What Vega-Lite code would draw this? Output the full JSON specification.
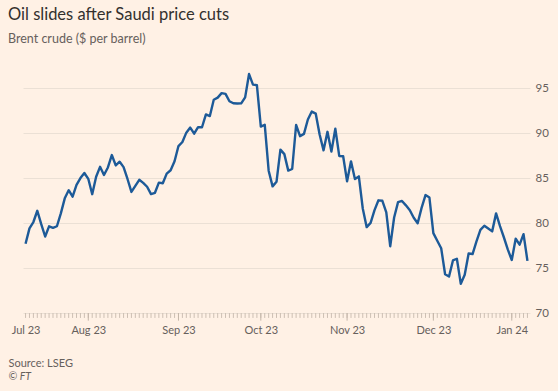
{
  "$schema": "https://vega.github.io/schema/vega-lite/v6.json",
  "autosize": "none",
  "width": 507,
  "height": 243,
  "padding": {"left": 23, "top": 70, "right": 28, "bottom": 78},
  "background": "#fff1e5",
  "title": {
    "text": "Oil slides after Saudi price cuts",
    "subtitle": "Brent crude ($ per barrel)",
    "anchor": "start",
    "frame": "group",
    "dx": -15,
    "offset": 25,
    "font": "Lato",
    "fontSize": 16.5,
    "fontWeight": "normal",
    "color": "#33302e",
    "subtitleFont": "Lato",
    "subtitleFontSize": 12.5,
    "subtitleColor": "#66605c",
    "subtitlePadding": 9
  },
  "config": {
    "view": {"stroke": null},
    "axis": {"labelFont": "Lato", "titleFont": "Lato"}
  },
  "data": {
    "values": [
      {"date": "2023-07-10", "price": 77.69}, {"date": "2023-07-11", "price": 79.40}, {"date": "2023-07-12", "price": 80.11}, {"date": "2023-07-13", "price": 81.36}, {"date": "2023-07-14", "price": 79.87},
      {"date": "2023-07-17", "price": 78.50}, {"date": "2023-07-18", "price": 79.63}, {"date": "2023-07-19", "price": 79.46}, {"date": "2023-07-20", "price": 79.64}, {"date": "2023-07-21", "price": 81.07},
      {"date": "2023-07-24", "price": 82.74}, {"date": "2023-07-25", "price": 83.64}, {"date": "2023-07-26", "price": 82.92}, {"date": "2023-07-27", "price": 84.24}, {"date": "2023-07-28", "price": 84.99},
      {"date": "2023-07-31", "price": 85.56},
      {"date": "2023-08-01", "price": 84.91}, {"date": "2023-08-02", "price": 83.20}, {"date": "2023-08-03", "price": 85.14}, {"date": "2023-08-04", "price": 86.24},
      {"date": "2023-08-07", "price": 85.34}, {"date": "2023-08-08", "price": 86.17}, {"date": "2023-08-09", "price": 87.55}, {"date": "2023-08-10", "price": 86.40}, {"date": "2023-08-11", "price": 86.81},
      {"date": "2023-08-14", "price": 86.21}, {"date": "2023-08-15", "price": 84.89}, {"date": "2023-08-16", "price": 83.45}, {"date": "2023-08-17", "price": 84.12}, {"date": "2023-08-18", "price": 84.80},
      {"date": "2023-08-21", "price": 84.46}, {"date": "2023-08-22", "price": 84.03}, {"date": "2023-08-23", "price": 83.21}, {"date": "2023-08-24", "price": 83.36}, {"date": "2023-08-25", "price": 84.48},
      {"date": "2023-08-28", "price": 84.42}, {"date": "2023-08-29", "price": 85.49}, {"date": "2023-08-30", "price": 85.86}, {"date": "2023-08-31", "price": 86.86},
      {"date": "2023-09-01", "price": 88.55},
      {"date": "2023-09-04", "price": 89.00}, {"date": "2023-09-05", "price": 90.04}, {"date": "2023-09-06", "price": 90.60}, {"date": "2023-09-07", "price": 89.92}, {"date": "2023-09-08", "price": 90.65},
      {"date": "2023-09-11", "price": 90.64}, {"date": "2023-09-12", "price": 92.06}, {"date": "2023-09-13", "price": 91.88}, {"date": "2023-09-14", "price": 93.70}, {"date": "2023-09-15", "price": 93.93},
      {"date": "2023-09-18", "price": 94.43}, {"date": "2023-09-19", "price": 94.34}, {"date": "2023-09-20", "price": 93.53}, {"date": "2023-09-21", "price": 93.30}, {"date": "2023-09-22", "price": 93.27},
      {"date": "2023-09-25", "price": 93.29}, {"date": "2023-09-26", "price": 93.96}, {"date": "2023-09-27", "price": 96.55}, {"date": "2023-09-28", "price": 95.38}, {"date": "2023-09-29", "price": 95.31},
      {"date": "2023-10-02", "price": 90.71}, {"date": "2023-10-03", "price": 90.92}, {"date": "2023-10-04", "price": 85.81}, {"date": "2023-10-05", "price": 84.07}, {"date": "2023-10-06", "price": 84.58},
      {"date": "2023-10-09", "price": 88.15}, {"date": "2023-10-10", "price": 87.65}, {"date": "2023-10-11", "price": 85.82}, {"date": "2023-10-12", "price": 86.00}, {"date": "2023-10-13", "price": 90.89},
      {"date": "2023-10-16", "price": 89.65}, {"date": "2023-10-17", "price": 89.90}, {"date": "2023-10-18", "price": 91.50}, {"date": "2023-10-19", "price": 92.38}, {"date": "2023-10-20", "price": 92.16},
      {"date": "2023-10-23", "price": 89.83}, {"date": "2023-10-24", "price": 88.07}, {"date": "2023-10-25", "price": 90.13}, {"date": "2023-10-26", "price": 87.93}, {"date": "2023-10-27", "price": 90.48},
      {"date": "2023-10-30", "price": 87.45}, {"date": "2023-10-31", "price": 87.41},
      {"date": "2023-11-01", "price": 84.63}, {"date": "2023-11-02", "price": 86.85}, {"date": "2023-11-03", "price": 84.89},
      {"date": "2023-11-06", "price": 85.18}, {"date": "2023-11-07", "price": 81.61}, {"date": "2023-11-08", "price": 79.54}, {"date": "2023-11-09", "price": 80.01}, {"date": "2023-11-10", "price": 81.43},
      {"date": "2023-11-13", "price": 82.52}, {"date": "2023-11-14", "price": 82.47}, {"date": "2023-11-15", "price": 81.18}, {"date": "2023-11-16", "price": 77.42}, {"date": "2023-11-17", "price": 80.61},
      {"date": "2023-11-20", "price": 82.32}, {"date": "2023-11-21", "price": 82.45}, {"date": "2023-11-22", "price": 81.96}, {"date": "2023-11-23", "price": 81.42}, {"date": "2023-11-24", "price": 80.58},
      {"date": "2023-11-27", "price": 79.98}, {"date": "2023-11-28", "price": 81.68}, {"date": "2023-11-29", "price": 83.10}, {"date": "2023-11-30", "price": 82.83},
      {"date": "2023-12-01", "price": 78.88},
      {"date": "2023-12-04", "price": 78.03}, {"date": "2023-12-05", "price": 77.20}, {"date": "2023-12-06", "price": 74.30}, {"date": "2023-12-07", "price": 74.05}, {"date": "2023-12-08", "price": 75.84},
      {"date": "2023-12-11", "price": 76.03}, {"date": "2023-12-12", "price": 73.24}, {"date": "2023-12-13", "price": 74.26}, {"date": "2023-12-14", "price": 76.61}, {"date": "2023-12-15", "price": 76.55},
      {"date": "2023-12-18", "price": 77.95}, {"date": "2023-12-19", "price": 79.23}, {"date": "2023-12-20", "price": 79.70}, {"date": "2023-12-21", "price": 79.39}, {"date": "2023-12-22", "price": 79.07},
      {"date": "2023-12-26", "price": 81.07}, {"date": "2023-12-27", "price": 79.65}, {"date": "2023-12-28", "price": 78.39}, {"date": "2023-12-29", "price": 77.04},
      {"date": "2024-01-02", "price": 75.89}, {"date": "2024-01-03", "price": 78.25}, {"date": "2024-01-04", "price": 77.59}, {"date": "2024-01-05", "price": 78.76},
      {"date": "2024-01-08", "price": 75.8}
    ]
  },
  "encoding": {
    "x": {
      "field": "date",
      "type": "ordinal",
      "sort": "ascending",
      "scale": {"type": "point", "padding": 0.65},
      "axis": {
        "orient": "bottom",
        "labelAngle": 0,
        "labelOverlap": false,
        "labelExpr": "indexof(['2023-07-10','2023-08-01','2023-09-01','2023-10-02','2023-11-01','2023-12-01','2024-01-02'], datum.value) >= 0 ? utcFormat(toDate(datum.value), '%b %y') : ''",
        "labelFontSize": 11,
        "labelColor": "#66605c",
        "labelPadding": 11,
        "ticks": false,
        "domain": false,
        "grid": false,
        "title": "Source: LSEG",
        "titleFontSize": 11,
        "titleFontWeight": "normal",
        "titleColor": "#66605c",
        "titleAnchor": "start",
        "titleAlign": "left",
        "titleBaseline": "alphabetic",
        "titleX": -15,
        "titleY": 53
      }
    },
    "y": {
      "field": "price",
      "type": "quantitative",
      "scale": {"domain": [70, 97], "nice": false, "zero": false},
      "axis": {
        "orient": "right",
        "values": [70, 75, 80, 85, 90, 95],
        "labelFontSize": 11.5,
        "labelColor": "#66605c",
        "labelPadding": 5,
        "ticks": false,
        "domain": false,
        "grid": true,
        "gridColor": "#ebe0d5",
        "gridWidth": 1,
        "title": "© FT",
        "titleAngle": 0,
        "titleFontSize": 10.5,
        "titleFontStyle": "italic",
        "titleFontWeight": "normal",
        "titleColor": "#66605c",
        "titleAlign": "left",
        "titleBaseline": "alphabetic",
        "titleX": -522,
        "titleY": 309
      }
    }
  },
  "layer": [
    {
      "mark": {"type": "rule", "color": "#cdbfb3", "strokeWidth": 1},
      "encoding": {
        "y": {"datum": 70, "type": "quantitative"},
        "y2": {"datum": 69.45}
      }
    },
    {
      "transform": [{"filter": {"field": "date", "oneOf": ["2023-08-01", "2023-09-01", "2023-10-02", "2023-11-01", "2023-12-01", "2024-01-02"]}}],
      "mark": {"type": "rule", "color": "#c4b6a9", "strokeWidth": 1},
      "encoding": {
        "y": {"datum": 70, "type": "quantitative"},
        "y2": {"datum": 69.15}
      }
    },
    {
      "mark": {"type": "line", "color": "#1d5a98", "strokeWidth": 2.4, "strokeJoin": "round", "strokeCap": "butt"}
    }
  ]
}
